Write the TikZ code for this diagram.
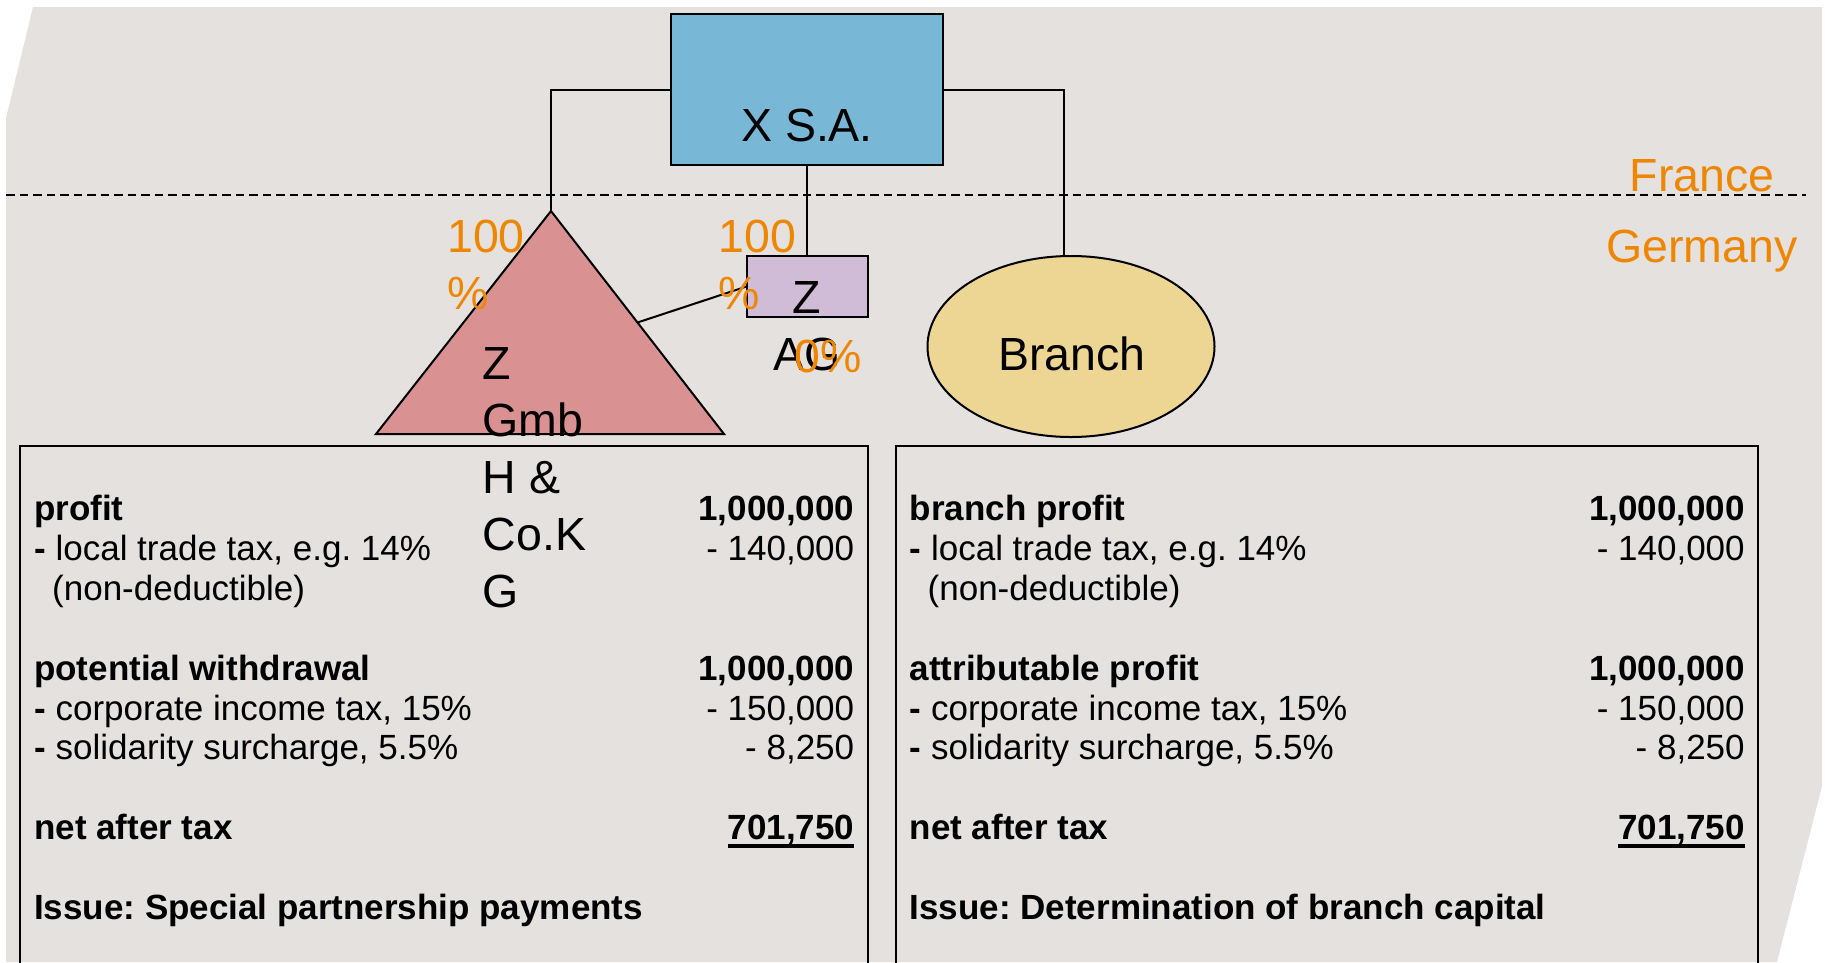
\documentclass[tikz,border=0pt]{standalone}
\usepackage{fontspec}
\setmainfont{Liberation Sans}
\usetikzlibrary{calc,shapes.geometric}

\definecolor{slidegray}{RGB}{228,225,222}
\definecolor{parentblue}{RGB}{120,183,214}
\definecolor{agviolet}{RGB}{208,188,214}
\definecolor{kgrose}{RGB}{217,145,146}
\definecolor{branchgold}{RGB}{237,213,148}
\definecolor{shareorange}{RGB}{238,134,0}

\frenchspacing
% type sizes (1pt = one unit of the drawing)
\newcommand\namesize{\fontsize{46.5}{57}\selectfont}
\newcommand\ledgersize{\fontsize{35}{39.9}\selectfont}
% stacked lines with a fixed line pitch, baseline on the first line
\newcommand\textrows[2]{\begin{tabular}[t]{@{}#1@{}}#2\end{tabular}}
% figure with a heavy underline
\newcommand\netsum[1]{\setbox0=\hbox{#1}\rlap{\copy0}\rule[-7.8pt]{\wd0}{3.6pt}}
\newcommand\indentline{\hspace*{18pt}}

\begin{document}
\begin{tikzpicture}[x=1pt,y=-1pt,
  link/.style={draw=black,line width=2pt},
  entity/.style={draw=black,line width=2pt,inner sep=0pt,outer sep=0pt},
  entityname/.style={font=\namesize,inner sep=0pt,text=black},
  share/.style={font=\namesize,inner sep=0pt,text=shareorange},
  panel/.style={draw=black,line width=2.2pt,inner sep=0pt,outer sep=0pt,anchor=north west},
  ledger/.style={font=\ledgersize,inner sep=0pt,anchor=base west,text=black}]

\useasboundingbox (0,0) rectangle (1825,962);
\clip (0,0) rectangle (1825,962);

% sheet
\fill[slidegray] (33,7) -- (1822,7) -- (1822,786) -- (1777,962) -- (6,962) -- (6,118) -- cycle;

% border between France and Germany
\draw[line width=2pt,dash pattern=on 8.5pt off 5pt] (6,195) -- (1806,195);

% calculation panels
\node[panel,minimum width=848pt,minimum height=560pt] (kg-panel) at (20,446) {};
\node[panel,minimum width=862pt,minimum height=560pt] (branch-panel) at (896,446) {};

% entities
\node[entity,fill=parentblue,minimum width=272pt,minimum height=151pt] (xsa) at (807,89.5) {};
\node[entity,fill=agviolet,minimum width=121pt,minimum height=61pt] (zag) at (807,286.5) {};

\coordinate (kg-apex) at (551,211);
\coordinate (kg-left) at (376,434);
\coordinate (kg-right) at (724,434);
\coordinate (kg-side) at ($(kg-apex)!0.5!(kg-right)$);
\filldraw[fill=kgrose,draw=black,line width=2pt] (kg-left) -- (kg-apex) -- (kg-right) -- cycle;

\node[entity,ellipse,fill=branchgold,minimum width=287pt,minimum height=181pt] (branch) at (1071,346.5) {};

% ownership links
\draw[link] (xsa.west) -| (kg-apex);
\draw[link] (xsa.south) -- (zag.north);
\draw[link] (xsa.east) -| ([xshift=-7pt]branch.north);
\draw[link] (kg-side) -- (zag.west);

% entity names
\node[entityname,anchor=base] (xsa-name) at (807,141) {X S.A.};
\node[entityname,anchor=base] (zag-name) at (807,313) {\textrows{c}{Z\\AG}};
\node[entityname,anchor=base west] (kg-name) at (482.5,379) {\textrows{l}{Z\\Gmb\\H \&\\Co.K\\G}};
\node[entityname,anchor=base] (branch-name) at (1072,370) {Branch};

% shareholdings
\node[share,anchor=base west] (kg-share) at (447,252) {\textrows{l}{100\\\%}};
\node[share,anchor=base west] (zag-share) at (718.5,252) {\textrows{l}{100\\\%}};
\node[share,anchor=base west] (zag-rest) at (794,372) {0\%};

% countries
\node[share,anchor=base] (france) at (1702,191.7) {France};
\node[share,anchor=base] (germany) at (1702,262) {Germany};

% tax calculations
\node[ledger] (kg-ledger) at (34,520.5) {%
\begin{tabular*}{820pt}[t]{@{}l@{\extracolsep{\fill}}r@{}}
\textbf{profit} & \textbf{1,000,000}\\
\textbf{-} local trade tax, e.g. 14\% & - 140,000\\
\indentline(non-deductible) & \\
 & \\
\textbf{potential withdrawal} & \textbf{1,000,000}\\
\textbf{-} corporate income tax, 15\% & - 150,000\\
\textbf{-} solidarity surcharge, 5.5\% & - 8,250\\
 & \\
\textbf{net after tax} & \textbf{\netsum{701,750}}\\
 & \\
\textbf{Issue: Special partnership payments} &
\end{tabular*}};

\node[ledger] (branch-ledger) at (909.5,520.5) {%
\begin{tabular*}{835pt}[t]{@{}l@{\extracolsep{\fill}}r@{}}
\textbf{branch profit} & \textbf{1,000,000}\\
\textbf{-} local trade tax, e.g. 14\% & - 140,000\\
\indentline(non-deductible) & \\
 & \\
\textbf{attributable profit} & \textbf{1,000,000}\\
\textbf{-} corporate income tax, 15\% & - 150,000\\
\textbf{-} solidarity surcharge, 5.5\% & - 8,250\\
 & \\
\textbf{net after tax} & \textbf{\netsum{701,750}}\\
 & \\
\textbf{Issue: Determination of branch capital} &
\end{tabular*}};

\end{tikzpicture}
\end{document}
